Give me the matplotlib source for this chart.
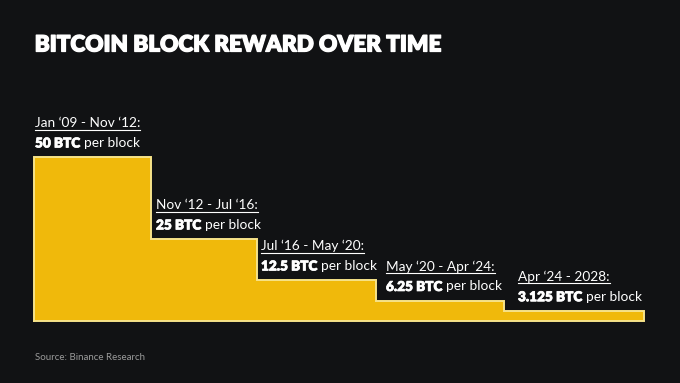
import matplotlib.pyplot as plt
import matplotlib.transforms as mtransforms
import matplotlib.patheffects as pe

# dados
periodos = ["Jan \u201809 - Nov \u201812:", "Nov \u201812 - Jul \u201816:", "Jul \u201816 - May \u201820:",
            "May \u201820 - Apr \u201824:", "Apr \u201824 - 2028:"]
recompensa = [50, 25, 12.5, 6.25, 3.125]
valores_txt = ["50 BTC", "25 BTC", "12.5 BTC", "6.25 BTC", "3.125 BTC"]
larguras = [117, 106, 119, 128, 140]  # largura relativa de cada era

bg = "#111214"
amarelo = "#F0B90B"
contorno = "#F7E38A"

fig = plt.figure(figsize=(6.8, 3.83), dpi=100, facecolor=bg)
W, H = 680, 383
x0, x1, yb, yt = 34, 644, 321, 157
ax = fig.add_axes([x0 / W, (H - yb) / H, (x1 - x0) / W, (yb - yt) / H])
ax.set_facecolor(bg)
ax.axis("off")

bordas = [0]
for w in larguras:
    bordas.append(bordas[-1] + w)

xs = [bordas[0]]
ys = [0]
for i, r in enumerate(recompensa):
    xs += [bordas[i], bordas[i + 1]]
    ys += [r, r]
xs.append(bordas[-1])
ys.append(0)
ax.fill(xs, ys, color=amarelo, lw=0)
ax.plot(xs + [xs[0]], ys + [ys[0]], color=contorno, lw=1.4, clip_on=False, solid_joinstyle="miter")
ax.set_xlim(bordas[0], bordas[-1])
ax.set_ylim(0, 50)

fonte = "Lato"
grosso = [pe.withStroke(linewidth=0.9, foreground="white")]
fig.text(x0 / W + 0.001, 1 - 45 / H, "BITCOIN BLOCK REWARD OVER TIME", color="white",
         fontsize=16.2, fontweight="heavy", family=fonte, va="center", ha="left", path_effects=grosso)
fig.text(x0 / W + 0.001, 1 - 357 / H, "Source: Binance Research", color="#9a9a9a",
         fontsize=7, family=fonte, va="center", ha="left")

fig.canvas.draw()
rend = fig.canvas.get_renderer()
desloc_x = [1, 5, 4, 10, 14]
fs = 9.8
for i in range(len(recompensa)):
    base = ax.transData
    tr_p = mtransforms.offset_copy(base, fig=fig, x=desloc_x[i], y=34, units="dots")
    t = ax.text(bordas[i], recompensa[i], periodos[i], transform=tr_p, color="white",
                fontsize=fs, family=fonte, va="center", ha="left", clip_on=False)
    bb = t.get_window_extent(rend)
    fig.add_artist(plt.Line2D([bb.x0 / W, bb.x1 / W], [(bb.y0 - 0.5) / H, (bb.y0 - 0.5) / H],
                              color="white", lw=0.8))
    tr_v = mtransforms.offset_copy(base, fig=fig, x=desloc_x[i], y=14, units="dots")
    tb = ax.text(bordas[i], recompensa[i], valores_txt[i], transform=tr_v, color="white",
                 fontsize=fs, fontweight="heavy", family=fonte, va="center", ha="left", clip_on=False,
                 path_effects=[pe.withStroke(linewidth=0.5, foreground="white")])
    bb2 = tb.get_window_extent(rend)
    tr_r = mtransforms.offset_copy(base, fig=fig, x=desloc_x[i] + bb2.width + 4, y=14, units="dots")
    ax.text(bordas[i], recompensa[i], "per block", transform=tr_r, color="white",
            fontsize=fs, family=fonte, va="center", ha="left", clip_on=False)

fig.savefig("out.png", dpi=100, facecolor=bg)
